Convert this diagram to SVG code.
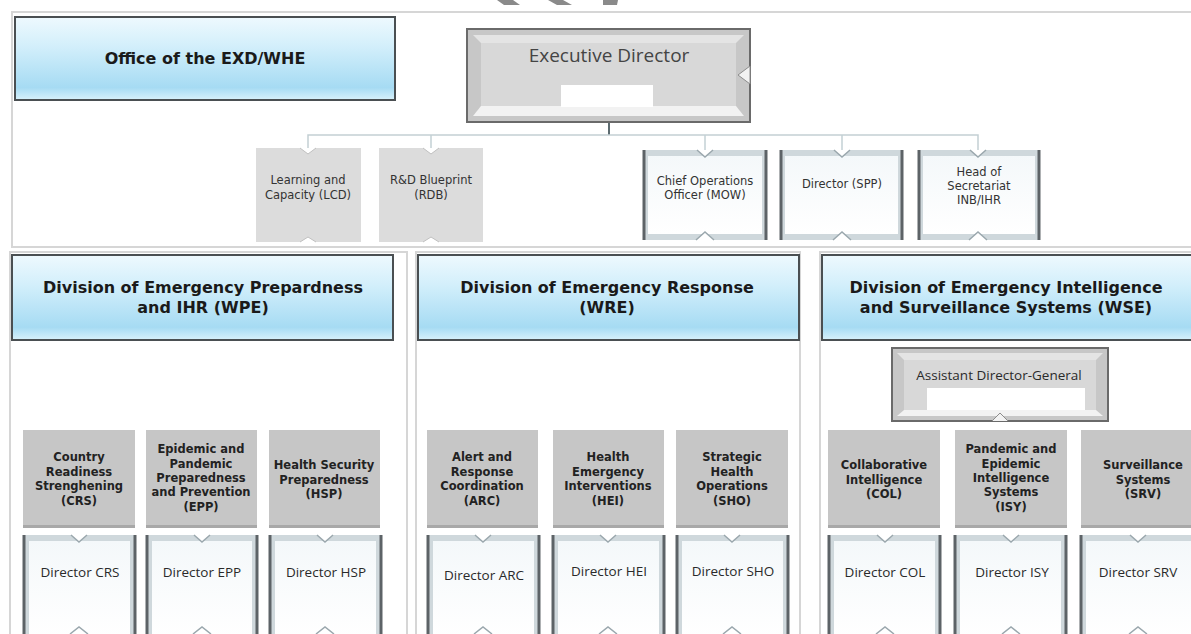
<svg xmlns="http://www.w3.org/2000/svg" width="1191" height="634" viewBox="0 0 1191 634">
<defs>
<linearGradient id="hdr" x1="0" y1="0" x2="0" y2="1">
<stop offset="0" stop-color="#eef9fe"/>
<stop offset="0.35" stop-color="#d3effb"/>
<stop offset="0.85" stop-color="#a6dbf3"/>
<stop offset="1" stop-color="#d8f1fb"/>
</linearGradient>
<linearGradient id="wht" x1="0" y1="0" x2="0" y2="1">
<stop offset="0" stop-color="#f4f8fa"/>
<stop offset="1" stop-color="#ffffff"/>
</linearGradient>
<style>
.frame{fill:none;stroke:#d6d6d6;stroke-width:2}
.hdr{fill:url(#hdr);stroke:#4a4f52;stroke-width:2}
.ht{font-family:"DejaVu Sans",sans-serif;font-weight:700;font-size:16px;fill:#1a1a1a;text-anchor:middle}
.gb{fill:#c6c6c6}
.gbt{fill:#a8a8a8}
.gt{font-family:"DejaVu Sans",sans-serif;font-weight:700;font-size:11.5px;fill:#222;text-anchor:middle}
.lt{font-family:"DejaVu Sans",sans-serif;font-size:11.5px;fill:#333;text-anchor:middle}
.dt{font-family:"Open Sans","DejaVu Sans",sans-serif;font-size:13.5px;fill:#2a2a2a;text-anchor:middle}
.bev{fill:#cfd8dc}
.inn{fill:url(#wht)}
.side{stroke:#5d6367;stroke-width:3}
.chev{fill:#ffffff;stroke:#9aa7ad;stroke-width:1.5}
.lg{fill:#dcdcdc}
.con{fill:none;stroke:#c3d0d4;stroke-width:1.5}
</style>
</defs>
<rect width="1191" height="634" fill="#ffffff"/>
<g fill="#8a8a8a">
<polygon points="497,0 513,0 520,5 504,5"/>
<polygon points="548,0 563,0 572,5 557,5"/>
<polygon points="603,0 618,0 617,5 603,5"/>
</g>
<rect class="frame" x="12" y="12" width="1182" height="235"/>
<rect class="frame" x="10" y="252" width="397" height="390"/>
<rect class="frame" x="416" y="252" width="384" height="390"/>
<rect class="frame" x="820" y="252" width="380" height="390"/>

<g id="connectors">
<line x1="609" y1="122" x2="609" y2="135" stroke="#5c6b70" stroke-width="2"/>
<polyline class="con" points="308,150 308,135 978,135 978,150"/>
<line class="con" x1="431" y1="135" x2="431" y2="150"/>
<line class="con" x1="705" y1="135" x2="705" y2="150"/>
<line class="con" x1="842" y1="135" x2="842" y2="150"/>
</g>

<g id="office">
<rect class="hdr" x="15" y="17" width="380" height="83"/>
<text class="ht" x="205" y="64">Office of the EXD/WHE</text>
</g>

<g id="exec">
<rect x="467" y="29" width="283" height="93" fill="#c7c7c7" stroke="#6a6a6a" stroke-width="2"/>
<polygon points="473,35 744,35 736,43 481,43" fill="#e4e4e4"/>
<polygon points="473,116 744,116 736,106 481,106" fill="#f2f2f2"/>
<rect x="481" y="43" width="255" height="63" fill="#d8d8d8"/>
<rect x="561" y="85" width="92" height="22" fill="#ffffff"/>
<polygon points="750,66 738,75 750,84" fill="#f2f2f2" stroke="#8c8c8c" stroke-width="1"/>
<text x="609" y="62" font-family="Open Sans, DejaVu Sans, sans-serif" font-size="19" fill="#444" text-anchor="middle">Executive Director</text>
</g>

<g id="lcd">
<rect class="lg" x="256" y="148" width="105" height="94"/>
<polyline points="300,148 308,154 316,148" fill="#fff" stroke="#c0c0c0"/>
<polyline points="300,242 308,237 316,242" fill="#fff" stroke="#c0c0c0"/>
<text class="lt" x="308" y="184">Learning and</text>
<text class="lt" x="308" y="199">Capacity (LCD)</text>
</g>
<g id="rdb">
<rect class="lg" x="379" y="148" width="104" height="94"/>
<polyline points="423,148 431,154 439,148" fill="#fff" stroke="#c0c0c0"/>
<polyline points="423,242 431,237 439,242" fill="#fff" stroke="#c0c0c0"/>
<text class="lt" x="431" y="184">R&amp;D Blueprint</text>
<text class="lt" x="431" y="199">(RDB)</text>
</g>

<g id="mow">
<rect class="bev" x="643" y="150" width="124" height="90"/>
<rect class="inn" x="648" y="156" width="114" height="78"/>
<line class="side" x1="644" y1="150" x2="644" y2="240"/><line class="side" x1="766" y1="150" x2="766" y2="240"/>
<polyline class="chev" points="697,150 705,157 713,150"/>
<polyline class="chev" points="696,240 705,232 714,240"/>
<text class="lt" x="705" y="185">Chief Operations</text>
<text class="lt" x="705" y="199">Officer (MOW)</text>
</g>
<g id="spp">
<rect class="bev" x="780" y="150" width="123" height="90"/>
<rect class="inn" x="785" y="156" width="113" height="78"/>
<line class="side" x1="781" y1="150" x2="781" y2="240"/><line class="side" x1="902" y1="150" x2="902" y2="240"/>
<polyline class="chev" points="834,150 842,157 850,150"/>
<polyline class="chev" points="833,240 842,232 851,240"/>
<text class="lt" x="842" y="188">Director (SPP)</text>
</g>
<g id="head">
<rect class="bev" x="918" y="150" width="122" height="90"/>
<rect class="inn" x="923" y="156" width="112" height="78"/>
<line class="side" x1="919" y1="150" x2="919" y2="240"/><line class="side" x1="1039" y1="150" x2="1039" y2="240"/>
<polyline class="chev" points="970,150 978,157 986,150"/>
<polyline class="chev" points="969,240 978,232 987,240"/>
<text class="lt" x="979" y="176">Head of</text>
<text class="lt" x="979" y="190">Secretariat</text>
<text class="lt" x="979" y="204">INB/IHR</text>
</g>

<g id="wpe">
<rect class="hdr" x="12" y="255" width="381" height="85"/>
<text class="ht" x="203" y="293">Division of Emergency Prepardness</text>
<text class="ht" x="203" y="313">and IHR (WPE)</text>
</g>
<g id="wre">
<rect class="hdr" x="418" y="255" width="381" height="85"/>
<text class="ht" x="607" y="293">Division of Emergency Response</text>
<text class="ht" x="607" y="313">(WRE)</text>
</g>
<g id="wse">
<rect class="hdr" x="822" y="255" width="375" height="85"/>
<text class="ht" x="1006" y="293">Division of Emergency Intelligence</text>
<text class="ht" x="1006" y="313">and Surveillance Systems  (WSE)</text>
</g>

<g id="adg">
<rect x="892" y="348" width="216" height="73" fill="#c7c7c7" stroke="#6a6a6a" stroke-width="2"/>
<polygon points="897,353 1103,353 1096,360 904,360" fill="#e4e4e4"/>
<polygon points="897,416 1103,416 1096,410 904,410" fill="#f2f2f2"/>
<rect x="904" y="360" width="192" height="50" fill="#d8d8d8"/>
<rect x="927" y="388" width="158" height="22" fill="#ffffff"/>
<polyline points="992,421 1000,413 1008,421" fill="#f2f2f2" stroke="#8c8c8c"/>
<text class="dt" x="999" y="380">Assistant  Director-General</text>
</g>

<g id="crs"><rect class="gb" x="23" y="430" width="112" height="98"/><rect class="gbt" x="23" y="525" width="112" height="3"/>
<text class="gt" x="79" y="461">Country</text><text class="gt" x="79" y="476">Readiness</text><text class="gt" x="79" y="490">Strenghening</text><text class="gt" x="79" y="505">(CRS)</text></g>
<g id="epp"><rect class="gb" x="146" y="430" width="111" height="98"/><rect class="gbt" x="146" y="525" width="111" height="3"/>
<text class="gt" x="201" y="453">Epidemic and</text><text class="gt" x="201" y="468">Pandemic</text><text class="gt" x="201" y="482">Preparedness</text><text class="gt" x="201" y="496">and Prevention</text><text class="gt" x="201" y="511">(EPP)</text></g>
<g id="hsp"><rect class="gb" x="269" y="430" width="111" height="98"/><rect class="gbt" x="269" y="525" width="111" height="3"/>
<text class="gt" x="324" y="469">Health Security</text><text class="gt" x="324" y="484">Preparedness</text><text class="gt" x="324" y="498">(HSP)</text></g>
<g id="arc"><rect class="gb" x="427" y="430" width="111" height="98"/><rect class="gbt" x="427" y="525" width="111" height="3"/>
<text class="gt" x="482" y="461">Alert and</text><text class="gt" x="482" y="476">Response</text><text class="gt" x="482" y="490">Coordination</text><text class="gt" x="482" y="505">(ARC)</text></g>
<g id="hei"><rect class="gb" x="553" y="430" width="111" height="98"/><rect class="gbt" x="553" y="525" width="111" height="3"/>
<text class="gt" x="608" y="461">Health</text><text class="gt" x="608" y="476">Emergency</text><text class="gt" x="608" y="490">Interventions</text><text class="gt" x="608" y="505">(HEI)</text></g>
<g id="sho"><rect class="gb" x="676" y="430" width="112" height="98"/><rect class="gbt" x="676" y="525" width="112" height="3"/>
<text class="gt" x="732" y="461">Strategic</text><text class="gt" x="732" y="476">Health</text><text class="gt" x="732" y="490">Operations</text><text class="gt" x="732" y="505">(SHO)</text></g>
<g id="col"><rect class="gb" x="828" y="430" width="112" height="98"/><rect class="gbt" x="828" y="525" width="112" height="3"/>
<text class="gt" x="884" y="469">Collaborative</text><text class="gt" x="884" y="484">Intelligence</text><text class="gt" x="884" y="498">(COL)</text></g>
<g id="isy"><rect class="gb" x="955" y="430" width="112" height="98"/><rect class="gbt" x="955" y="525" width="112" height="3"/>
<text class="gt" x="1011" y="453">Pandemic and</text><text class="gt" x="1011" y="468">Epidemic</text><text class="gt" x="1011" y="482">Intelligence</text><text class="gt" x="1011" y="496">Systems</text><text class="gt" x="1011" y="511">(ISY)</text></g>
<g id="srv"><rect class="gb" x="1081" y="430" width="115" height="98"/><rect class="gbt" x="1081" y="525" width="115" height="3"/>
<text class="gt" x="1143" y="469">Surveillance</text><text class="gt" x="1143" y="484">Systems</text><text class="gt" x="1143" y="498">(SRV)</text></g>

<g id="dcrs"><rect class="bev" x="23" y="535" width="113" height="102"/><rect class="inn" x="29" y="541" width="101" height="96"/>
<line class="side" x1="24" y1="535" x2="24" y2="637"/><line class="side" x1="135" y1="535" x2="135" y2="637"/>
<polyline class="chev" points="71,535 79,542 87,535"/><polyline class="chev" points="70,634 79,627 88,634"/>
<text class="dt" x="80" y="577">Director CRS</text></g>
<g id="depp"><rect class="bev" x="146" y="535" width="112" height="102"/><rect class="inn" x="152" y="541" width="100" height="96"/>
<line class="side" x1="147" y1="535" x2="147" y2="637"/><line class="side" x1="257" y1="535" x2="257" y2="637"/>
<polyline class="chev" points="194,535 202,542 210,535"/><polyline class="chev" points="193,634 202,627 211,634"/>
<text class="dt" x="202" y="577">Director EPP</text></g>
<g id="dhsp"><rect class="bev" x="269" y="535" width="113" height="102"/><rect class="inn" x="275" y="541" width="101" height="96"/>
<line class="side" x1="270" y1="535" x2="270" y2="637"/><line class="side" x1="381" y1="535" x2="381" y2="637"/>
<polyline class="chev" points="317,535 325,542 333,535"/><polyline class="chev" points="316,634 325,627 334,634"/>
<text class="dt" x="326" y="577">Director HSP</text></g>
<g id="darc"><rect class="bev" x="427" y="535" width="113" height="102"/><rect class="inn" x="433" y="541" width="101" height="96"/>
<line class="side" x1="428" y1="535" x2="428" y2="637"/><line class="side" x1="539" y1="535" x2="539" y2="637"/>
<polyline class="chev" points="475,535 483,542 491,535"/><polyline class="chev" points="474,634 483,627 492,634"/>
<text class="dt" x="484" y="580">Director ARC</text></g>
<g id="dhei"><rect class="bev" x="552" y="535" width="113" height="102"/><rect class="inn" x="558" y="541" width="101" height="96"/>
<line class="side" x1="553" y1="535" x2="553" y2="637"/><line class="side" x1="664" y1="535" x2="664" y2="637"/>
<polyline class="chev" points="600,535 608,542 616,535"/><polyline class="chev" points="599,634 608,627 617,634"/>
<text class="dt" x="609" y="576">Director HEI</text></g>
<g id="dsho"><rect class="bev" x="676" y="535" width="113" height="102"/><rect class="inn" x="682" y="541" width="101" height="96"/>
<line class="side" x1="677" y1="535" x2="677" y2="637"/><line class="side" x1="788" y1="535" x2="788" y2="637"/>
<polyline class="chev" points="724,535 732,542 740,535"/><polyline class="chev" points="723,634 732,627 741,634"/>
<text class="dt" x="733" y="576">Director SHO</text></g>
<g id="dcol"><rect class="bev" x="828" y="535" width="113" height="102"/><rect class="inn" x="834" y="541" width="101" height="96"/>
<line class="side" x1="829" y1="535" x2="829" y2="637"/><line class="side" x1="940" y1="535" x2="940" y2="637"/>
<polyline class="chev" points="877,535 885,542 893,535"/><polyline class="chev" points="876,634 885,627 894,634"/>
<text class="dt" x="885" y="577">Director COL</text></g>
<g id="disy"><rect class="bev" x="954" y="535" width="113" height="102"/><rect class="inn" x="960" y="541" width="101" height="96"/>
<line class="side" x1="955" y1="535" x2="955" y2="637"/><line class="side" x1="1066" y1="535" x2="1066" y2="637"/>
<polyline class="chev" points="1003,535 1011,542 1019,535"/><polyline class="chev" points="1002,634 1011,627 1020,634"/>
<text class="dt" x="1012" y="577">Director ISY</text></g>
<g id="dsrv"><rect class="bev" x="1080" y="535" width="120" height="102"/><rect class="inn" x="1086" y="541" width="110" height="96"/>
<line class="side" x1="1081" y1="535" x2="1081" y2="637"/>
<polyline class="chev" points="1130,535 1138,542 1146,535"/><polyline class="chev" points="1129,634 1138,627 1147,634"/>
<text class="dt" x="1138" y="577">Director SRV</text></g>
</svg>
